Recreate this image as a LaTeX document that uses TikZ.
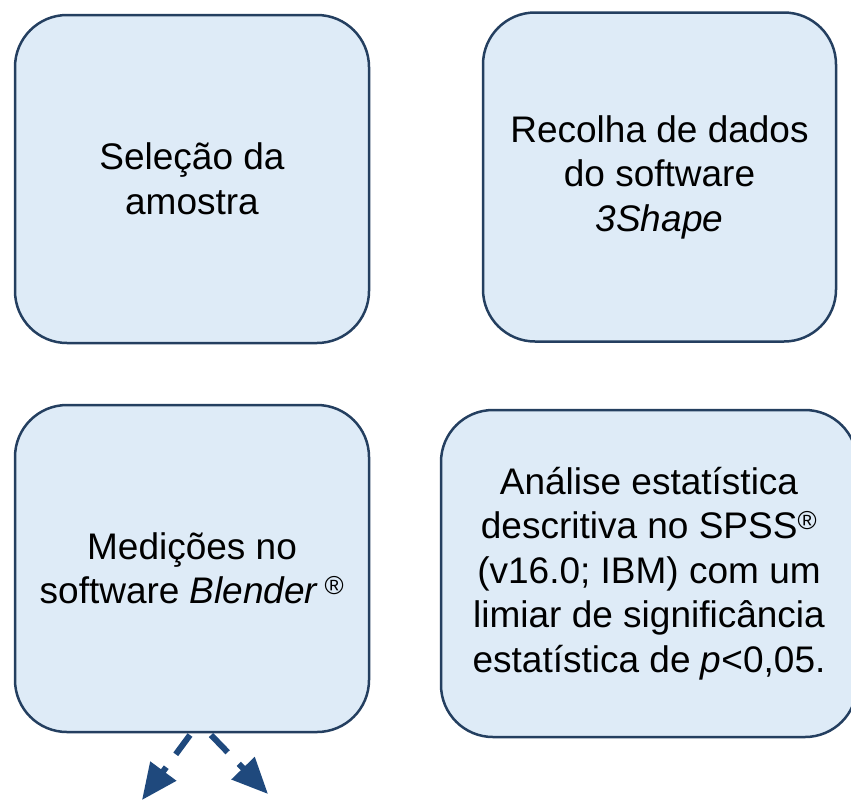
\documentclass[tikz,border=0pt]{standalone}
\usepackage{fontspec}
\setmainfont{Liberation Sans}
\usetikzlibrary{arrows.meta}
\definecolor{boxfill}{RGB}{222,235,247}
\definecolor{boxline}{RGB}{36,63,96}
\definecolor{arrowblue}{RGB}{31,73,125}
\begin{document}
\begin{tikzpicture}[x=1pt,y=-1pt,
  stage/.style={draw=boxline, fill=boxfill, line width=2.5pt, rounded corners=52pt,
    align=center, inner sep=0pt, outer sep=0pt,
    font=\fontsize{37}{44.5}\selectfont},
  dasharrow/.style={draw=arrowblue, line width=6pt, dash pattern=on 24pt off 16pt,
    -{Triangle[length=36pt,width=31pt]}}
]
\useasboundingbox (0,0) rectangle (851,807);
\clip (0,0) rectangle (851,807);
\node[stage, minimum width=354pt, minimum height=328pt] (b1) at (192,179)
  {Seleção da\\amostra};
\node[stage, minimum width=353pt, minimum height=329pt] (b2) at (659.5,177)
  {Recolha de dados\\do software\\\textit{3Shape}};
\node[stage, minimum width=354pt, minimum height=327pt] (b3) at (192,568.5)
  {Medições no\\software \textit{Blender}\,\textsuperscript{®}};
\node[stage, minimum width=416pt, minimum height=327pt] (b4) at (649,573.5)
  {Análise estatística\\descritiva no SPSS\textsuperscript{®}\\(v16.0; IBM) com um\\limiar de significância\\estatística de \textit{p}<0,05.};
\coordinate (s1) at ([xshift=-2pt,yshift=-3pt]b3.south);
\coordinate (s2) at ([xshift=19pt,yshift=-3pt]b3.south);
\coordinate (e1) at (142,800);
\coordinate (e2) at (268,794);
\draw[dasharrow] (s1) -- (e1);
\draw[dasharrow] (s2) -- (e2);
\end{tikzpicture}
\end{document}
